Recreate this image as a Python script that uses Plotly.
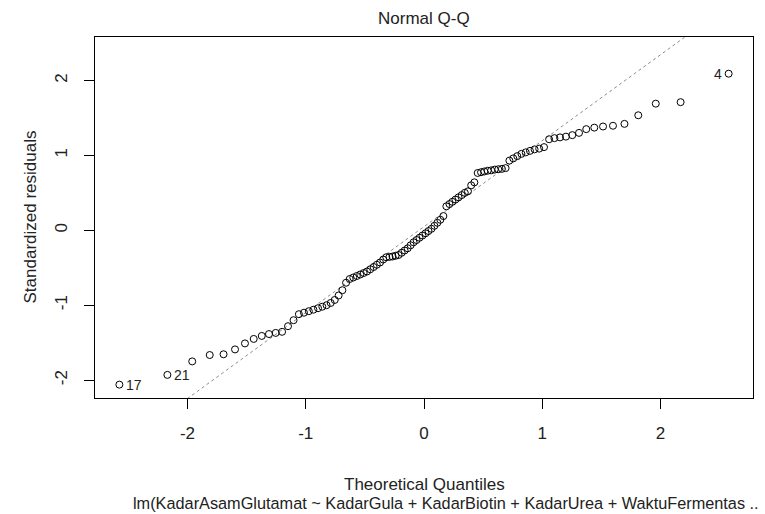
import plotly.graph_objects as go

# Theoretical quantiles (normal scores for n = 100)
theoretical_q = [
    -2.576, -2.170, -1.960, -1.812, -1.695, -1.598, -1.514, -1.440, -1.372, -1.311,
    -1.254, -1.200, -1.150, -1.103, -1.058, -1.015, -0.974, -0.935, -0.896, -0.860,
    -0.824, -0.789, -0.755, -0.722, -0.690, -0.659, -0.628, -0.598, -0.568, -0.539,
    -0.510, -0.482, -0.454, -0.426, -0.399, -0.372, -0.345, -0.319, -0.292, -0.266,
    -0.240, -0.215, -0.189, -0.164, -0.138, -0.113, -0.088, -0.063, -0.038, -0.013,
    0.013, 0.038, 0.063, 0.088, 0.113, 0.138, 0.164, 0.189, 0.215, 0.240,
    0.266, 0.292, 0.319, 0.345, 0.372, 0.399, 0.426, 0.454, 0.482, 0.510,
    0.539, 0.568, 0.598, 0.628, 0.659, 0.690, 0.722, 0.755, 0.789, 0.824,
    0.860, 0.896, 0.935, 0.974, 1.015, 1.058, 1.103, 1.150, 1.200, 1.254,
    1.311, 1.372, 1.440, 1.514, 1.598, 1.695, 1.812, 1.960, 2.170, 2.576,
]

# Sorted standardized residuals
std_resid = [
    -2.06, -1.93, -1.75, -1.665, -1.655, -1.59, -1.51, -1.45, -1.41, -1.385,
    -1.37, -1.355, -1.28, -1.20, -1.12, -1.10, -1.08, -1.06, -1.04, -1.02,
    -1.00, -0.97, -0.93, -0.87, -0.80, -0.70, -0.65, -0.63, -0.61, -0.59,
    -0.57, -0.55, -0.52, -0.49, -0.46, -0.43, -0.39, -0.36, -0.355, -0.35,
    -0.34, -0.33, -0.30, -0.27, -0.24, -0.20, -0.16, -0.13, -0.10, -0.07,
    -0.04, -0.01, 0.02, 0.06, 0.10, 0.14, 0.19, 0.32, 0.35, 0.38,
    0.41, 0.44, 0.47, 0.50, 0.52, 0.60, 0.64, 0.765, 0.775, 0.785,
    0.795, 0.80, 0.81, 0.815, 0.82, 0.83, 0.93, 0.96, 0.99, 1.02,
    1.04, 1.06, 1.08, 1.09, 1.11, 1.215, 1.23, 1.24, 1.25, 1.27,
    1.30, 1.35, 1.37, 1.385, 1.395, 1.42, 1.535, 1.69, 1.71, 2.09,
]

# Labelled observations: position in sorted order -> observation id
label_pos = [0, 1, 99]
label_text = ["17", "21", "4"]

tick_vals = [-2, -1, 0, 1, 2]
tick_text = ["-2", "-1", "0", "1", "2"]

title_text = "Normal Q-Q"
x_title = "Theoretical Quantiles"
y_title = "Standardized residuals"
sub_caption = "lm(KadarAsamGlutamat ~ KadarGula + KadarBiotin + KadarUrea + WaktuFermentas .."

FONT = "Liberation Sans, Arial, sans-serif"
TXT = "#222222"

# qqline through the quartiles (as R does, quantile type 7)
def q7(vals, p):
    s = sorted(vals)
    h = (len(s) - 1) * p
    lo = int(h)
    return s[lo] + (h - lo) * (s[min(lo + 1, len(s) - 1)] - s[lo])

y1, y3 = q7(std_resid, 0.25), q7(std_resid, 0.75)
x1, x3 = -0.6744898, 0.6744898
slope = (y3 - y1) / (x3 - x1)
intercept = y1 - slope * x1

# axis limits like R (ylim extended 7.5% at the top for labels, then 4% both sides)
xmin, xmax = min(theoretical_q), max(theoretical_q)
xr = [xmin - 0.04 * (xmax - xmin), xmax + 0.04 * (xmax - xmin)]
ylo, yhi = min(std_resid), max(std_resid)
yhi = yhi + 0.075 * (yhi - ylo)
yr = [ylo - 0.04 * (yhi - ylo), yhi + 0.04 * (yhi - ylo)]

line_x = [xr[0], xr[1]]
line_y = [intercept + slope * v for v in line_x]

fig = go.Figure()
fig.add_trace(go.Scatter(
    x=line_x, y=line_y, mode="lines",
    line=dict(color="#8c8c8c", width=1, dash="dot"),
    hoverinfo="skip", showlegend=False,
))
fig.add_trace(go.Scatter(
    x=theoretical_q, y=std_resid, mode="markers",
    marker=dict(symbol="circle-open", size=7, color="black", line=dict(width=1, color="black")),
    showlegend=False,
))

annotations = []
for i, t in zip(label_pos, label_text):
    left_side = theoretical_q[i] < 0
    annotations.append(dict(
        text=t, x=theoretical_q[i], y=std_resid[i], xref="x", yref="y",
        xanchor="left" if left_side else "right", xshift=5 if left_side else -5,
        yanchor="middle", showarrow=False,
        font=dict(family=FONT, size=14, color=TXT),
    ))

axis_common = dict(
    showline=True, linecolor="black", linewidth=1, mirror=True,
    showgrid=False, zeroline=False,
    ticks="outside", ticklen=10, tickwidth=1, tickcolor="black",
    tickvals=tick_vals, ticktext=tick_text,
    tickfont=dict(family=FONT, size=17, color=TXT),
)

annotations += [
    dict(text=title_text, xref="paper", yref="paper", x=0.5, y=1, yanchor="bottom",
         yshift=7, showarrow=False, font=dict(family=FONT, size=17, color=TXT)),
    dict(text=x_title, xref="paper", yref="paper", x=0.5, y=0, yanchor="middle",
         yshift=-86, showarrow=False, font=dict(family=FONT, size=17, color=TXT)),
    dict(text=sub_caption, xref="paper", yref="paper", x=0.534, y=0, yanchor="middle",
         yshift=-105, showarrow=False, font=dict(family=FONT, size=16.3, color=TXT)),
    dict(text=y_title, xref="paper", yref="paper", x=0, y=0.5, xanchor="center",
         xshift=-65, textangle=-90, showarrow=False,
         font=dict(family=FONT, size=17, color=TXT)),
]

fig.update_layout(
    width=765, height=514,
    margin=dict(l=95, r=12, t=37, b=116),
    paper_bgcolor="white", plot_bgcolor="white",
    xaxis=dict(range=xr, ticklabelstandoff=10, **axis_common),
    yaxis=dict(range=yr, tickangle=-90, ticklabelstandoff=10, **axis_common),
    annotations=annotations,
)

fig.write_html("out.html", config={"displayModeBar": False},
               post_script="document.body.style.margin='0px';")
